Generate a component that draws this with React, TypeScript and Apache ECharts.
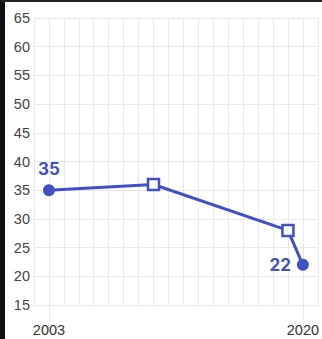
import React, { useEffect, useRef } from "react";
import * as echarts from "echarts";

const years = [2003, 2010, 2019, 2020];
const values = [35, 36, 28, 22];
const symbols = ["circle", "rect", "rect", "circle"];
const labelledYears = [2003, 2020];
const yTicks = { min: 15, max: 65, step: 5 };
const xRange = { min: 2002, max: 2021 };

const BLUE = "#4150c6";
const GRID = "#e9e9e9";

export default function App() {
  const ref = useRef<HTMLDivElement>(null);

  useEffect(() => {
    if (!ref.current) return;
    const chart = echarts.init(ref.current, null, { renderer: "svg" });

    const last = years.length - 1;
    const data = years.map((y, i) => {
      const hollow = symbols[i] === "rect";
      const item: any = {
        value: [y, values[i]],
        symbol: symbols[i],
        symbolSize: hollow ? 11 : 12,
        itemStyle: hollow
          ? { color: "#fff", borderColor: BLUE, borderWidth: 2.5 }
          : { color: BLUE, borderWidth: 0 },
      };
      if (i === 0) {
        item.label = { show: true, position: "top", distance: 7 };
      } else if (i === last) {
        item.label = { show: true, position: "left", distance: 6 };
      }
      return item;
    });

    chart.setOption({
      animation: false,
      backgroundColor: "#fff",
      grid: { left: 34, right: 3, top: 18, bottom: 34, containLabel: false },
      xAxis: [
        {
          type: "value",
          min: xRange.min,
          max: xRange.max,
          interval: 1,
          axisLine: { show: false },
          axisTick: { show: false },
          axisLabel: { show: false },
          splitLine: { show: true, lineStyle: { color: GRID, width: 1 } },
        },
        {
          type: "value",
          position: "bottom",
          min: xRange.min,
          max: xRange.max,
          axisLine: { show: false },
          axisTick: {
            show: true,
            customValues: labelledYears,
            length: 15,
            lineStyle: { color: GRID, width: 1 },
          },
          axisLabel: {
            show: true,
            customValues: labelledYears,
            formatter: (v: number) => String(v),
            color: "#333",
            fontSize: 14.5,
            fontFamily: "Liberation Sans",
            margin: 17,
          },
          splitLine: { show: false },
        },
      ],
      yAxis: {
        type: "value",
        min: yTicks.min,
        max: yTicks.max,
        interval: yTicks.step,
        axisLine: { show: false },
        axisTick: { show: false },
        axisLabel: {
          color: "#444",
          fontSize: 14.5,
          fontFamily: "Liberation Sans",
          margin: 4,
        },
        splitLine: { show: true, lineStyle: { color: GRID, width: 1 } },
      },
      series: [
        {
          type: "line",
          xAxisIndex: 0,
          data,
          lineStyle: { color: BLUE, width: 3 },
          itemStyle: { color: BLUE },
          label: {
            show: false,
            color: BLUE,
            fontSize: 17,
            fontWeight: "bold",
            fontFamily: "Inter",
            formatter: (p: any) => String(p.value[1]),
          },
          z: 3,
        },
      ],
    });

    return () => chart.dispose();
  }, []);

  return (
    <div
      style={{
        position: "fixed",
        left: 0,
        top: 0,
        width: 322,
        height: 339,
        background: "#fff",
        overflow: "hidden",
      }}
    >
      <div
        style={{
          position: "absolute",
          left: 0,
          top: 0,
          width: 5,
          height: 339,
          background: "#111",
          zIndex: 2,
        }}
      />
      <div
        style={{
          position: "absolute",
          left: 0,
          top: 0,
          width: 322,
          height: 2,
          background: "#222",
          zIndex: 2,
        }}
      />
      <div ref={ref} style={{ position: "absolute", left: 0, top: 0, width: 322, height: 339 }} />
    </div>
  );
}
